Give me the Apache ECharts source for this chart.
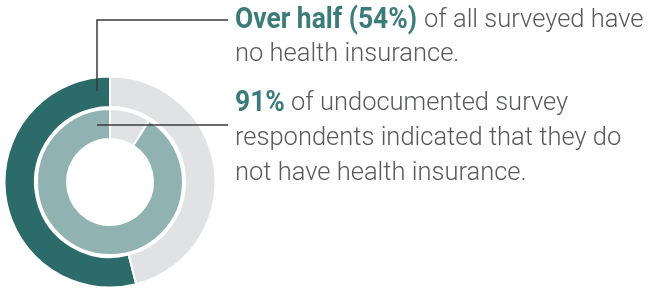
<!DOCTYPE html>
<html>
<head>
<meta charset="utf-8">
<script src="https://cdn.jsdelivr.net/npm/echarts@6/dist/echarts.min.js"></script>
<style>
  html, body { margin: 0; padding: 0; background: #fff; }
  #main { width: 649px; height: 290px; }
</style>
</head>
<body>
<div id="main"></div>
<script>
// 外环：所有受访者
const allLabels = ['No health insurance', 'Has health insurance'];
const allValues = [54, 46];
// 内环：无证件受访者
const undocLabels = ['No health insurance', 'Has health insurance'];
const undocValues = [91, 9];

const chart = echarts.init(document.getElementById('main'), null, { renderer: 'canvas' });

const bodyFont = 'Roboto, "Liberation Sans", sans-serif';

// 常规文字（y 为基线位置）
function bodyText(x, y, t) {
  return {
    type: 'text', x: x, y: y - 21, z: 10,
    style: {
      text: t, fontFamily: bodyFont, fontSize: 25.5, fontWeight: 300,
      fill: '#58595b', verticalAlign: 'top'
    }
  };
}

// 粗体窄字（横向压缩模拟 condensed）
function boldText(x, y, t) {
  return {
    type: 'text', x: x, y: y - 23, z: 10, scaleX: 0.91,
    style: {
      text: t, fontFamily: bodyFont, fontSize: 29, fontWeight: 'bold',
      fill: '#3b7b7a', verticalAlign: 'top'
    }
  };
}

const option = {
  animation: false,
  series: [
    {
      type: 'pie',
      center: [110, 182],
      radius: [75, 105.5],
      startAngle: 90,
      clockwise: false,
      silent: true,
      label: { show: false },
      labelLine: { show: false },
      itemStyle: { borderColor: '#fff', borderWidth: 2 },
      data: allLabels.map((name, i) => ({
        name: name, value: allValues[i],
        itemStyle: { color: i === 0 ? '#2b6b6a' : '#e1e2e4' }
      }))
    },
    {
      type: 'pie',
      center: [110, 182],
      radius: [43, 73],
      startAngle: 90,
      clockwise: false,
      silent: true,
      label: { show: false },
      labelLine: { show: false },
      itemStyle: { borderColor: '#fff', borderWidth: 2 },
      data: undocLabels.map((name, i) => ({
        name: name, value: undocValues[i],
        itemStyle: { color: i === 0 ? '#90b3b2' : '#e1e2e4' }
      }))
    }
  ],
  graphic: [
    {
      type: 'polyline', z: 10,
      shape: { points: [[97, 91], [97, 20], [228, 20]] },
      style: { stroke: '#3a3a3a', lineWidth: 1.5, fill: null }
    },
    {
      type: 'polyline', z: 10,
      shape: { points: [[97, 125], [228, 125]] },
      style: { stroke: '#3a3a3a', lineWidth: 1.5, fill: null }
    },
    boldText(235, 29, 'Over half (54%)'),
    bodyText(424, 29, 'of all surveyed have'),
    bodyText(235, 63, 'no health insurance.'),
    boldText(235, 112, '91%'),
    bodyText(291, 112, 'of undocumented survey'),
    bodyText(235, 147, 'respondents indicated that they do'),
    bodyText(235, 182, 'not have health insurance.')
  ]
};

chart.setOption(option);
</script>
</body>
</html>
